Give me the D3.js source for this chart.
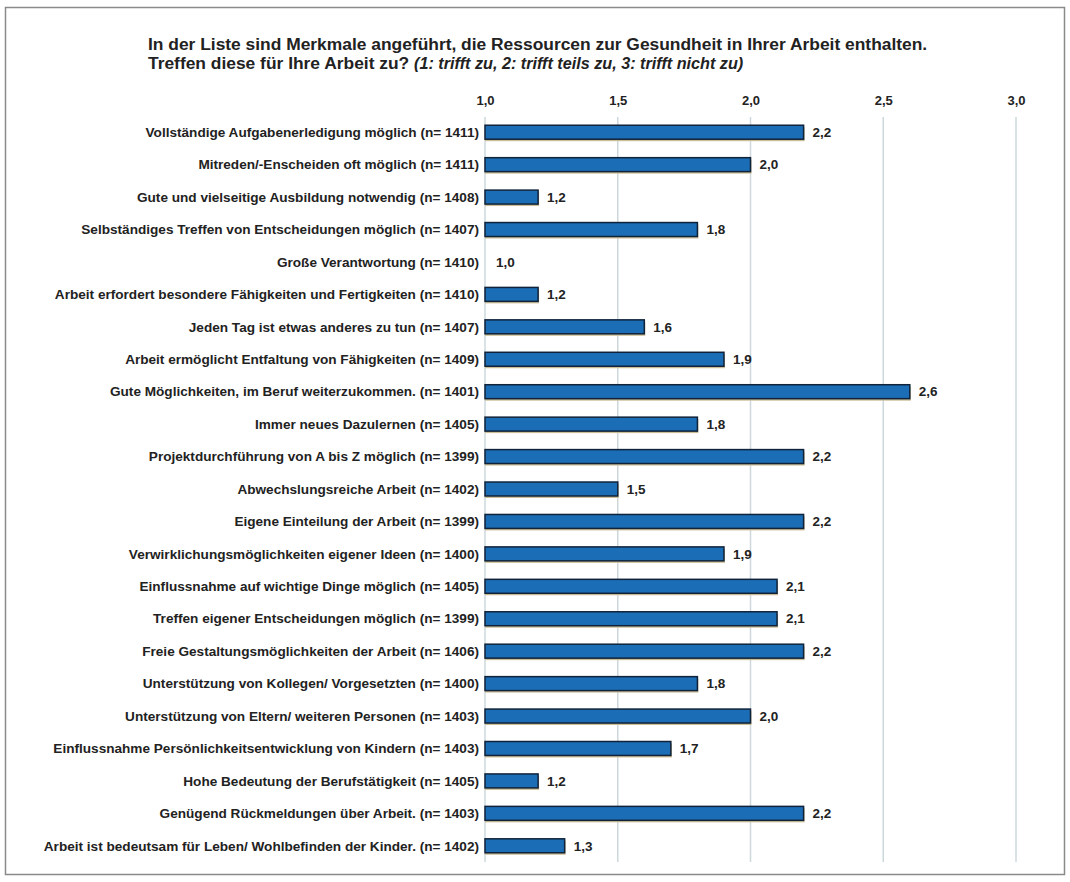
<!DOCTYPE html>
<html><head><meta charset="utf-8">
<script src="https://cdn.jsdelivr.net/npm/d3@7"></script>
<style>
body{margin:0;background:#fff;}
text{font-family:"Liberation Sans",Arial,sans-serif;font-weight:bold;fill:#222;}
</style></head>
<body><svg id="chart" width="1070" height="882"></svg>
<script>
const categories = [
"Vollständige Aufgabenerledigung möglich (n= 1411)",
"Mitreden/-Enscheiden oft möglich (n= 1411)",
"Gute und vielseitige Ausbildung notwendig (n= 1408)",
"Selbständiges Treffen von Entscheidungen möglich (n= 1407)",
"Große Verantwortung (n= 1410)",
"Arbeit erfordert besondere Fähigkeiten und Fertigkeiten (n= 1410)",
"Jeden Tag ist etwas anderes zu tun (n= 1407)",
"Arbeit ermöglicht Entfaltung von Fähigkeiten (n= 1409)",
"Gute Möglichkeiten, im Beruf weiterzukommen. (n= 1401)",
"Immer neues Dazulernen (n= 1405)",
"Projektdurchführung von A bis Z möglich (n= 1399)",
"Abwechslungsreiche Arbeit (n= 1402)",
"Eigene Einteilung der Arbeit (n= 1399)",
"Verwirklichungsmöglichkeiten eigener Ideen (n= 1400)",
"Einflussnahme auf wichtige Dinge möglich (n= 1405)",
"Treffen eigener Entscheidungen möglich (n= 1399)",
"Freie Gestaltungsmöglichkeiten der Arbeit (n= 1406)",
"Unterstützung von Kollegen/ Vorgesetzten (n= 1400)",
"Unterstützung von Eltern/ weiteren Personen (n= 1403)",
"Einflussnahme Persönlichkeitsentwicklung von Kindern (n= 1403)",
"Hohe Bedeutung der Berufstätigkeit (n= 1405)",
"Genügend Rückmeldungen über Arbeit. (n= 1403)",
"Arbeit ist bedeutsam für Leben/ Wohlbefinden der Kinder. (n= 1402)"
];
const values = [2.2,2.0,1.2,1.8,1.0,1.2,1.6,1.9,2.6,1.8,2.2,1.5,2.2,1.9,2.1,2.1,2.2,1.8,2.0,1.7,1.2,2.2,1.3];
const tickValues = [1.0,1.5,2.0,2.5,3.0];
const titleLine1 = "In der Liste sind Merkmale angeführt, die Ressourcen zur Gesundheit in Ihrer Arbeit enthalten.";
const titleLine2a = "Treffen diese für Ihre Arbeit zu? ";
const titleLine2b = "(1: trifft zu, 2: trifft teils zu, 3: trifft nicht zu)";

const svg = d3.select("#chart");
const fmt = v => d3.format(".1f")(v).replace(".", ",");

// outer frame
svg.append("rect").attr("x",5.5).attr("y",7.5).attr("width",1059).attr("height",867)
  .attr("fill","#fff").attr("stroke","#8a8a8a").attr("stroke-width",1.5);

const x = d3.scaleLinear().domain([1,3]).range([485,1016]);
const y = d3.scaleBand().domain(categories).range([116,862]).paddingInner(0.57).paddingOuter(0.285);

// gridlines
svg.append("g").selectAll("line").data(tickValues).join("line")
  .attr("x1",d=>x(d)).attr("x2",d=>x(d)).attr("y1",117).attr("y2",862)
  .attr("stroke","#cdd8dc").attr("stroke-width",1.5);

// top axis labels
const axis = d3.axisTop(x).tickValues(tickValues).tickFormat(fmt).tickSize(0).tickPadding(0);
const ag = svg.append("g").attr("transform","translate(0,105)").call(axis);
ag.select(".domain").remove();
ag.selectAll("text").style("font-size","13px").attr("fill","#222");

// category labels
svg.append("g").selectAll("text").data(categories).join("text")
  .attr("x",479).attr("y",d=>y(d)+y.bandwidth()/2).attr("dy","0.35em")
  .attr("text-anchor","end").style("font-size","13.6px").text(d=>d);

// bar shadows
const data = categories.map((c,i)=>({c,v:values[i]}));
svg.append("g").selectAll("rect").data(data.filter(d=>d.v>1)).join("rect")
  .attr("x",x(1)).attr("y",d=>y(d.c)+2).attr("width",d=>x(d.v)-x(1)+1).attr("height",y.bandwidth())
  .attr("fill","#cbbd96");
// bars
svg.append("g").selectAll("rect").data(data.filter(d=>d.v>1)).join("rect")
  .attr("x",x(1)).attr("y",d=>y(d.c)).attr("width",d=>x(d.v)-x(1)).attr("height",y.bandwidth())
  .attr("fill","#1b6db5").attr("stroke","#10233a").attr("stroke-width",1.5);

// value labels
svg.append("g").selectAll("text").data(data).join("text")
  .attr("x",d=>x(d.v)+(d.v>1?9:11)).attr("y",d=>y(d.c)+y.bandwidth()/2).attr("dy","0.35em")
  .style("font-size","13.5px").text(d=>fmt(d.v));

// title
svg.append("text").attr("x",148).attr("y",50).style("font-size","17.4px").text(titleLine1);
const t2 = svg.append("text").attr("x",148).attr("y",69).style("font-size","17.4px");
t2.append("tspan").text(titleLine2a);
t2.append("tspan").style("font-style","italic").style("font-size","16.2px").text(titleLine2b);
</script></body></html>
